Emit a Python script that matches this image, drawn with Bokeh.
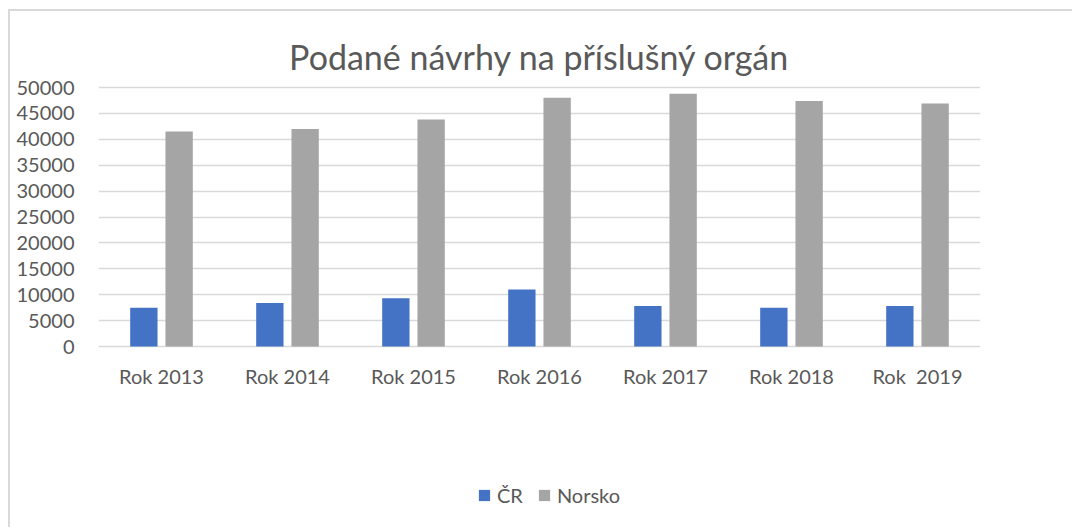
from bokeh.plotting import figure
from bokeh.models import (ColumnDataSource, FactorRange, Range1d, Legend, LegendItem,
                          FixedTicker, Label)
from bokeh.core.properties import value
from bokeh.transform import dodge
from bokeh.embed import file_html
from bokeh.resources import INLINE

categories = ["Rok 2013", "Rok 2014", "Rok 2015", "Rok 2016", "Rok 2017", "Rok 2018", "Rok \u00a02019"]
cr_values = [7500, 8400, 9300, 11000, 7800, 7500, 7800]
norsko_values = [41500, 42000, 43800, 48000, 48800, 47400, 46900]
y_ticks = [0, 5000, 10000, 15000, 20000, 25000, 30000, 35000, 40000, 45000, 50000]
title_text = "Podané návrhy na příslušný orgán"
series_names = ["ČR", "Norsko"]

FONT = "Lato"
TXT = "#595959"

src = ColumnDataSource(dict(cat=categories, cr=cr_values, no=norsko_values))

# frame fills the canvas vertically; 0 sits at 335px and 50000 at 76px from the top
PX = 50000 / 259.0
p = figure(width=1064, height=518, x_range=FactorRange(*categories),
           y_range=Range1d(-183 * PX, 50000 + 76 * PX),
           output_backend="svg", toolbar_location=None,
           min_border_left=88, min_border_right=94, min_border_top=0, min_border_bottom=0)
p.styles = {"margin-left": "8px", "margin-top": "9px",
            "border-left": "2px solid #d9d9d9", "border-top": "2px solid #d9d9d9"}
p.outline_line_color = None
p.background_fill_color = "white"
p.border_fill_color = "white"

r1 = p.vbar(x=dodge("cat", -0.14, range=p.x_range), top="cr", width=0.217, source=src,
            fill_color="#4472C4", line_color=None)
r2 = p.vbar(x=dodge("cat", 0.14, range=p.x_range), top="no", width=0.217, source=src,
            fill_color="#A5A5A5", line_color=None)

p.yaxis.ticker = FixedTicker(ticks=y_ticks)
p.ygrid.grid_line_color = "#d9d9d9"
p.ygrid.grid_line_width = 1.5
p.xgrid.grid_line_color = None
p.xaxis.visible = False

ax = p.yaxis[0]
ax.major_tick_line_color = None
ax.minor_tick_line_color = None
ax.axis_line_color = None
ax.major_label_text_font = FONT
ax.major_label_text_font_size = "20px"
ax.major_label_text_color = TXT
ax.major_label_standoff = 18

# category labels under the baseline
p.text(x="cat", y=-29 * PX, text="cat", source=src, text_align="center",
       text_baseline="middle", text_font=value(FONT), text_font_size="20px",
       text_color=TXT)

p.add_layout(Label(x=3.5, y=50000 + 31 * PX, text=title_text, text_align="center",
                   text_baseline="alphabetic", text_font=FONT, text_font_size="34px",
                   text_color=TXT))

legend = Legend(items=[LegendItem(label=series_names[0], renderers=[r1]),
                       LegendItem(label=series_names[1], renderers=[r2])],
                orientation="horizontal", location=(379, 22),
                padding=0, margin=0, spacing=14, glyph_width=14, glyph_height=14,
                label_standoff=6, label_text_font=FONT, label_text_font_size="20px",
                label_text_color=TXT, border_line_color=None, background_fill_alpha=0)
p.add_layout(legend, "center")

open("out.html", "w").write(file_html(p, INLINE))
